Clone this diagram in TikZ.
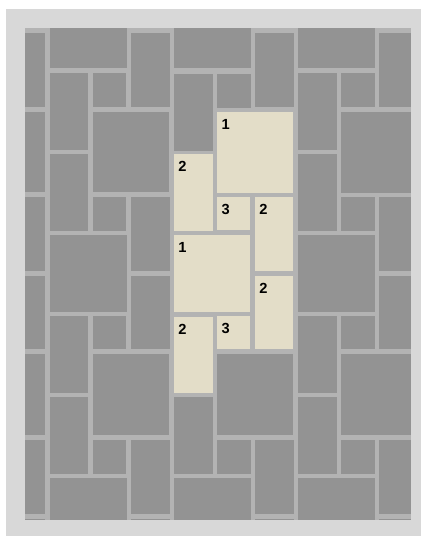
\documentclass[tikz,border=0pt]{standalone}
\usepackage{fontspec}
\setmainfont{Liberation Sans}
\definecolor{framegray}{HTML}{D8D8D8}
\definecolor{groutgray}{HTML}{B3B3B3}
\definecolor{tilegray}{HTML}{939393}
\definecolor{beige}{HTML}{E3DDC8}
\tikzset{
  gtile/.style={fill=tilegray},
  btile/.style={fill=beige},
  num/.style={anchor=base west, inner sep=0pt, font=\bfseries\fontsize{11}{13}\selectfont, text=black}
}
\begin{document}
\begin{tikzpicture}[x=0.75pt,y=-0.75pt]
\useasboundingbox (0,0) rectangle (422,536);
\fill[white] (0,0) rectangle (422,536);
\fill[framegray] (6,9) rectangle (421,536);
\fill[groutgray] (25,28.3) rectangle (411,520.3);
% gray tiles
\foreach \a/\b/\c/\d in {
  25/32.7/45/106.7, 25/111.7/45/192.3, 25/196.7/45/270.7, 25/275.7/45/349.3,
  25/354/45/435, 25/440/45/513.7, 25/519.3/45/520.3,
  50/28.3/126.7/68.3, 49.5/72.7/87.7/150, 49.5/153.7/87.7/230.7, 50/235/126.7/311.7,
  49.5/316/87.7/392.7, 49.5/397/87.7/473.7, 50/478/126.7/520.3,
  92.5/72.7/126.3/106.7, 93/111.7/169.3/192.3, 92.5/196.7/126.3/230.7,
  92.5/316/126.3/349.3, 93/354/169.3/435, 92.5/440/126.3/473.7,
  131/32.7/170/106.7, 131/196.7/170/270.7, 131/275.7/170/349.3,
  131/440/170/513.7, 131/519.3/170/520.3,
  174/28.3/251/68.3, 174/74/212.7/150.7, 174/397/212.7/473.7, 174/478/251/520.3,
  217.3/74/251/107.7, 217.3/354/293.3/435, 217.3/440/251/473.7,
  255/32.7/294/106.7, 255/440/294/513.7, 255/519.3/294/520.3,
  298/28.3/375/68.3, 298/73.3/337/150, 298/154/337/230.7, 298/235/375/311.7,
  298/316/337/392.7, 298/397/337/473.7, 298/478/375/520.3,
  341/73.3/375/107.3, 341/112/411/192.7, 341/196.7/375/230.7,
  341/316/375/349.3, 341/354/411/435, 341/440/375/473.7,
  379/32.7/411/106.7, 379/196.7/411/270.7, 379/275.7/411/349.3,
  379/440/411/513.7, 379/519.3/411/520.3}
  \fill[gtile] (\a,\b) rectangle (\c,\d);
% beige numbered tiles
\foreach \a/\b/\c/\d/\n/\m in {
  174/154/212.7/230.7/2/ta, 174/235/250.3/311.7/1/tb, 174/316.5/212.7/392.7/2/tc,
  217.3/112/293.3/192.7/1/td, 217.3/197.3/250.3/230/3/te, 217.3/316/250.3/349.3/3/tf,
  255/197.3/293.3/270.7/2/tg, 255/275.7/293.3/349.3/2/th}
{
  \fill[btile] (\a,\b) rectangle (\c,\d);
  \node[num] (\m) at (\a+4,\b+17.5) {\n};
}
\end{tikzpicture}
\end{document}
